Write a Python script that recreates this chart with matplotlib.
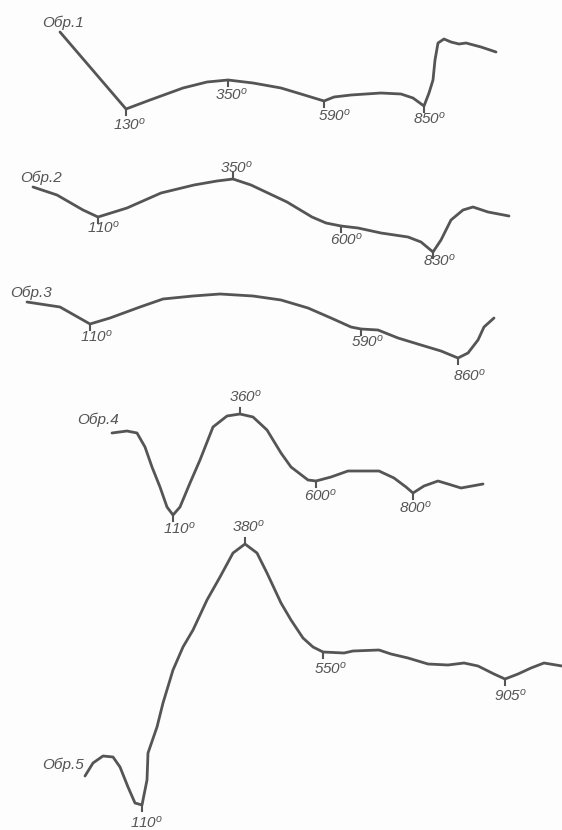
import matplotlib.pyplot as plt

plt.rcParams['mathtext.fontset'] = 'custom'
plt.rcParams['mathtext.it'] = 'Liberation Sans:italic'
plt.rcParams['mathtext.rm'] = 'Liberation Sans:italic'

# traced DTA curves (page pixel coordinates, y grows downward)
x1 = [60, 126, 150, 183, 207, 228, 253, 281, 301, 324, 334, 351, 381, 401, 413, 424,
      429, 433, 435, 438, 444, 451, 459, 466, 481, 496]
y1 = [32, 109, 100, 88, 82, 80, 83, 88, 94, 101, 97, 95, 93, 94, 98, 106,
      93, 80, 60, 43, 39, 42, 44, 43, 47, 52]

x2 = [33, 57, 83, 98, 127, 161, 194, 217, 233, 251, 287, 312, 326, 341, 358, 381,
      408, 421, 433, 441, 451, 463, 473, 488, 509]
y2 = [187, 195, 210, 217, 208, 193, 185, 181, 179, 185, 202, 217, 223, 226, 228, 233,
      237, 242, 252, 240, 220, 210, 207, 212, 216]

x3 = [27, 60, 90, 110, 140, 163, 193, 220, 253, 281, 308, 331, 351, 361, 378, 398,
      421, 441, 458, 468, 478, 484, 494]
y3 = [302, 307, 324, 318, 307, 299, 296, 294, 296, 300, 308, 318, 327, 329, 330, 338,
      345, 351, 358, 353, 340, 327, 318]

x4 = [112, 127, 137, 145, 152, 160, 167, 173, 180, 190, 200, 213, 227, 240, 253, 267,
      281, 291, 308, 316, 331, 348, 379, 394, 406, 413, 424, 438, 448, 461, 483]
y4 = [433, 431, 433, 447, 467, 487, 507, 515, 507, 483, 460, 427, 416, 414, 417, 430,
      453, 467, 480, 481, 477, 471, 471, 478, 487, 493, 486, 481, 484, 488, 484]

x5 = [85, 93, 103, 113, 120, 128, 135, 142, 147, 148, 157, 163, 173, 183, 193, 207,
      220, 233, 245, 257, 267, 281, 291, 303, 313, 323, 344, 353, 379, 391, 408, 428,
      448, 464, 478, 494, 505, 518, 531, 544, 562]
y5 = [776, 763, 756, 757, 767, 787, 803, 805, 780, 753, 727, 703, 670, 647, 630, 600,
      577, 553, 544, 553, 573, 603, 620, 638, 647, 652, 653, 651, 650, 654, 658, 664,
      665, 663, 666, 674, 679, 674, 668, 663, 666]

curves_x = [x1, x2, x3, x4, x5]
curves_y = [y1, y2, y3, y4, y5]

# sample names and where they sit
names = ['Обр.1', 'Обр.2', 'Обр.3', 'Обр.4', 'Обр.5']
name_pos = [(42, 23), (20, 178), (10, 293), (77, 420), (42, 765)]

# marked temperatures: label, peak x, peak y, tick direction (+1 down, -1 up), label x, label y
temps = ['130', '350', '590', '850',
         '110', '350', '600', '830',
         '110', '590', '860',
         '110', '360', '600', '800',
         '110', '380', '550', '905']
peak_x = [126, 228, 324, 424,
          98, 233, 341, 433,
          90, 361, 458,
          173, 240, 316, 413,
          142, 245, 323, 505]
peak_y = [109, 80, 101, 106,
          217, 179, 226, 252,
          324, 329, 358,
          515, 414, 481, 493,
          805, 544, 652, 679]
tick_dir = [1, 1, 1, 1,
            1, -1, 1, 1,
            1, 1, 1,
            1, -1, 1, 1,
            1, -1, 1, 1]
label_x = [113, 215, 318, 413,
           87, 220, 330, 423,
           80, 351, 453,
           163, 229, 304, 399,
           130, 232, 314, 494]
label_y = [125, 95, 116, 119,
           228, 168, 240, 261,
           337, 342, 376,
           529, 397, 496, 508,
           823, 527, 669, 696]

ink = '#555555'

fig = plt.figure(figsize=(5.62, 8.30), dpi=100)
fig.patch.set_facecolor('#fdfdfd')
ax = fig.add_axes([0, 0, 1, 1])
ax.set_xlim(0, 562)
ax.set_ylim(830, 0)
ax.axis('off')

for cx, cy in zip(curves_x, curves_y):
    ax.plot(cx, cy, color=ink, lw=2, solid_joinstyle='round', solid_capstyle='round')

for name, (nx, ny) in zip(names, name_pos):
    ax.text(nx, ny, name, fontsize=11, fontstyle='italic', family='Liberation Sans',
            color=ink, ha='left', va='center')

for t, px, py, d, lx, ly in zip(temps, peak_x, peak_y, tick_dir, label_x, label_y):
    ax.plot([px, px], [py, py + 6 * d], color=ink, lw=1.5)
    ax.text(lx, ly, r'$\mathit{' + t + r'^{o}}$', fontsize=11, color=ink,
            ha='left', va='center')

plt.savefig('out.png', dpi=100, facecolor=fig.get_facecolor())
plt.close()
